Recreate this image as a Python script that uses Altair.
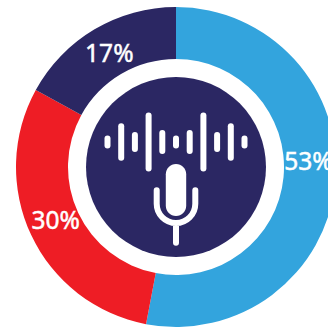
import altair as alt
import pandas as pd

# Donut shares, clockwise from twelve o'clock
segments = ["Blue", "Red", "Navy"]
shares = [53, 30, 17]
labels = ["53%", "30%", "17%"]
colors = ["#33A4DD", "#EE1D25", "#2B2763"]

# Nudges that seat each share label inside its segment
label_dx = [0, 0, 1]
label_dy = [-17, -2, 2]

# Sound-wave bars of the microphone icon, left to right
wave_index = [-5, -4, -3, -2, -1, 0, 1, 2, 3, 4, 5]
wave_heights = [13, 37.5, 20, 59, 24, 13, 24, 59, 20, 37.5, 13]

# Icon outlines, drawn at one pixel per path unit around the microphone's centre
CAPSULE = "M-10.2,-15.8 A10.2,10.2 0 0 1 10.2,-15.8 L10.2,15.8 A10.2,10.2 0 0 1 -10.2,15.8 Z"
CRADLE = "M-19.3,0.3 L-19.3,13.7 A19.3,19.3 0 0 0 19.3,13.7 L19.3,0.3 M0,33 L0,52.7"

CX, CY = 176, 167
WIDTH, HEIGHT = 328, 329

donut_df = pd.DataFrame(
    {"segment": segments, "share": shares, "label": labels, "rank": range(len(shares))}
)
wave_df = pd.DataFrame({"i": wave_index, "h": wave_heights})

theta = alt.Theta("share:Q", stack=True, scale=alt.Scale(domain=[0, 100]))
center = dict(x=alt.value(CX), y=alt.value(CY))

ring = alt.Chart(donut_df).mark_arc(radius=160, radius2=108).encode(
    theta=theta,
    order=alt.Order("rank:Q"),
    color=alt.Color(
        "segment:N",
        scale=alt.Scale(domain=segments, range=colors),
        legend=None,
    ),
    **center,
)


def share_label(row, dx, dy):
    """One white percentage label at the angular middle of its segment."""
    return alt.Chart(donut_df).mark_text(
        radius=133,
        dx=dx,
        dy=dy,
        font="Noto Sans",
        fontSize=24.5,
        color="white",
        stroke="white",
        strokeWidth=0.5,
        align="center",
        baseline="middle",
    ).encode(
        theta=theta,
        order=alt.Order("rank:Q"),
        text="label:N",
        opacity=alt.condition(
            alt.datum.rank == row, alt.value(1), alt.value(0)
        ),
        **center,
    )


share_text = [
    share_label(i, dx, dy) for i, (dx, dy) in enumerate(zip(label_dx, label_dy))
]

hub = alt.Chart(pd.DataFrame({"v": [1]})).mark_arc(
    radius=90, theta=0, theta2=6.28319, color="#2B2763"
).encode(**center)

wave = (
    alt.Chart(wave_df)
    .transform_calculate(top="-(datum.h - 6) / 2", bottom="(datum.h - 6) / 2")
    .mark_rule(color="white", strokeWidth=6, strokeCap="round")
    .encode(
        x=alt.X(
            "i:Q",
            axis=None,
            scale=alt.Scale(domain=[-176 / 13.7, 152 / 13.7], range=[0, WIDTH]),
        ),
        y=alt.Y(
            "top:Q",
            axis=None,
            scale=alt.Scale(domain=[-142, 187], range=[0, HEIGHT]),
        ),
        y2="bottom:Q",
    )
)

mic_anchor = dict(x=alt.value(CX), y=alt.value(190))
one = pd.DataFrame({"v": [1]})

capsule = alt.Chart(one).mark_point(
    shape=CAPSULE, size=4, filled=True, fill="white", stroke="white",
    strokeWidth=0, opacity=1,
).encode(**mic_anchor)

cradle = alt.Chart(one).mark_point(
    shape=CRADLE, size=4, filled=False, stroke="white",
    strokeWidth=6, strokeCap="round", opacity=1,
).encode(**mic_anchor)

chart = (
    alt.layer(ring, *share_text, hub, wave, capsule, cradle)
    .resolve_scale(theta="independent")
    .properties(
        width=WIDTH,
        height=HEIGHT,
        padding=0,
        autosize=alt.AutoSizeParams(type="none"),
        background="white",
    )
    .configure_view(stroke=None)
)

chart.save("out.html", embed_options={"renderer": "svg", "actions": False})
